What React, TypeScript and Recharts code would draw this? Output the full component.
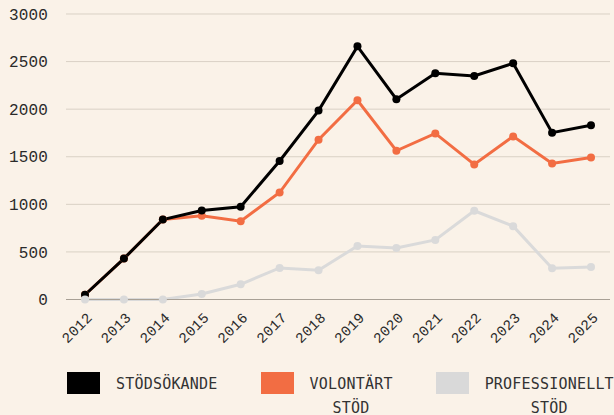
import React from 'react';
import { LineChart, Line, XAxis, YAxis, CartesianGrid } from 'recharts';

const years = ['2012', '2013', '2014', '2015', '2016', '2017', '2018', '2019', '2020', '2021', '2022', '2023', '2024', '2025'];
const stodsokande = [50, 430, 840, 935, 975, 1455, 1985, 2660, 2105, 2377, 2349, 2482, 1753, 1830];
const volontart = [50, 430, 840, 880, 823, 1124, 1679, 2093, 1563, 1745, 1419, 1714, 1429, 1493];
const professionellt = [0, 0, 0, 58, 160, 332, 307, 563, 542, 626, 932, 771, 328, 342];
const yTicks = [0, 500, 1000, 1500, 2000, 2500, 3000];

const legendItems = [
  { label: 'STÖDSÖKANDE', color: '#000000' },
  { label: 'VOLONTÄRT STÖD', color: '#F26D43' },
  { label: 'PROFESSIONELLT STÖD', color: '#D9D9D9' },
];

const data = years.map((y, i) => ({
  year: y,
  stodsokande: stodsokande[i],
  volontart: volontart[i],
  professionellt: professionellt[i],
}));

const BG = '#FAF2E8';
const MONO = '"DejaVu Sans Mono", "Liberation Mono", monospace';
const TICKMONO = '"Liberation Mono", "DejaVu Sans Mono", monospace';

const XTick = (props: any) => {
  const { x, y, payload } = props;
  return (
    <g transform={`translate(${x + 8},${y + 19}) rotate(-45)`}>
      <text x={0} y={0} textAnchor="end" fontFamily={TICKMONO} fontSize={14.5} letterSpacing={0.3} fill="#2a2a2a">
        {payload.value}
      </text>
    </g>
  );
};

export default function App() {
  return (
    <div style={{ position: 'absolute', left: 0, top: 0, width: 614, height: 415, background: BG, overflow: 'hidden' }}>
      <LineChart width={614} height={350} data={data} margin={{ top: 14, right: 4, bottom: 0, left: 0 }}>
        <CartesianGrid horizontal vertical={false} stroke="#D9D1C5" strokeWidth={1} />
        <XAxis
          dataKey="year"
          height={50.5}
          tick={<XTick />}
          tickLine={false}
          tickSize={0}
          tickMargin={0}
          interval={0}
          padding={{ left: 19, right: 19 }}
          axisLine={{ stroke: '#A8A095', strokeWidth: 1 }}
        />
        <YAxis
          width={66}
          domain={[0, 3000]}
          ticks={yTicks}
          tickLine={false}
          axisLine={false}
          tickSize={0}
          tickMargin={18}
          tick={{ fontFamily: TICKMONO, fontSize: 16, fill: '#2a2a2a', letterSpacing: 0.15 }}
        />
        <Line type="linear" dataKey="volontart" stroke="#F26D43" strokeWidth={3} dot={{ r: 4, fill: '#F26D43', stroke: 'none' }} isAnimationActive={false} />
        <Line type="linear" dataKey="stodsokande" stroke="#000000" strokeWidth={3} dot={{ r: 4, fill: '#000000', stroke: 'none' }} isAnimationActive={false} />
        <Line type="linear" dataKey="professionellt" stroke="#DADADA" strokeWidth={3} dot={{ r: 4, fill: '#DADADA', stroke: 'none' }} isAnimationActive={false} />
      </LineChart>
      <div style={{ position: 'absolute', left: 67, top: 372, display: 'flex', alignItems: 'flex-start', gap: 43 }}>
        {legendItems.map((it) => (
          <div key={it.label} style={{ display: 'flex', alignItems: 'flex-start', flexShrink: 0 }}>
            <div style={{ width: 33, height: 22, background: it.color, flexShrink: 0 }} />
            <div
              style={{
                marginLeft: 16,
                width: 'min-content',
                textAlign: 'center',
                fontFamily: MONO,
                fontSize: 15,
                lineHeight: '24px',
                marginTop: 0,
                letterSpacing: 0.2,
                color: '#333333',
                whiteSpace: 'normal',
              }}
            >
              {it.label}
            </div>
          </div>
        ))}
      </div>
    </div>
  );
}
